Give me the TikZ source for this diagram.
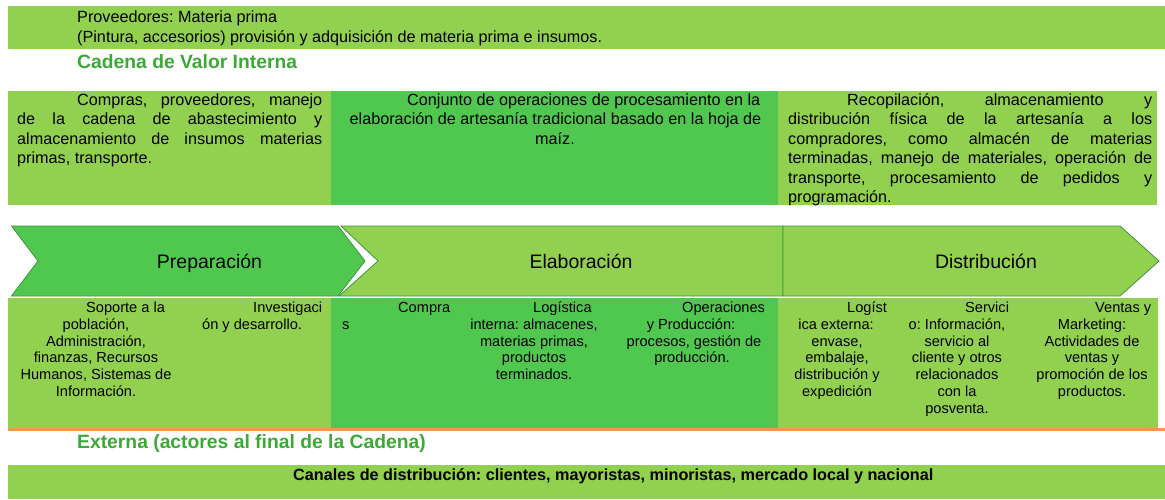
\documentclass[tikz,border=0pt]{standalone}
\usepackage{fontspec}
\setmainfont{Liberation Sans}
\frenchspacing
\definecolor{lg}{HTML}{92D050}
\definecolor{mg}{HTML}{50C850}
\definecolor{tg}{HTML}{3AAA35}
\definecolor{dg}{HTML}{3C963C}
\definecolor{og}{HTML}{F79646}
\tikzset{
  tA/.style={inner sep=0pt, anchor=base west, font=\fontsize{16.2}{19.5}\selectfont},
  tAc/.style={tA, anchor=base},
  tB/.style={inner sep=0pt, anchor=base west, font=\fontsize{14.6}{16.8}\selectfont},
  tBc/.style={tB, anchor=base},
  ttl/.style={inner sep=0pt, anchor=base west, text=tg, font=\fontsize{19.3}{22}\selectfont\bfseries},
  chv/.style={draw=dg, line width=0.8pt, line join=miter},
  chvtxt/.style={inner sep=0pt, anchor=base, font=\fontsize{19.5}{22}\selectfont},
}
\begin{document}
\begin{tikzpicture}[x=1pt,y=-1pt]
\useasboundingbox (0,0) rectangle (1165,499);
% top band
\fill[lg] (8,6) rectangle (1165,49);
\node[tA] (prov1) at (77,22) {Proveedores: Materia prima};
\node[tA] (prov2) at (77,42) {(Pintura, accesorios) provisión y adquisición de materia prima e insumos.};
\node[ttl] (cvi) at (77,68.5) {Cadena de Valor Interna};
% top boxes
\fill[lg] (8,91) rectangle (331,205);
\fill[mg] (331,91) rectangle (778,205);
\fill[lg] (778,91) rectangle (1157,205);
\node[tA] (c1) at (77,105) {\makebox[245pt][s]{Compras, proveedores, manejo}};
\node[tA] (c2) at (17,124.5) {\makebox[305pt][s]{de la cadena de abastecimiento y}};
\node[tA] (c3) at (17,144) {\makebox[305pt][s]{almacenamiento de insumos materias}};
\node[tA] (c4) at (17,163.5) {primas, transporte.};
\node[tA] (m1) at (407,105) {Conjunto de operaciones de procesamiento en la};
\node[tAc] (m2) at (555.5,124.5) {elaboración de artesanía tradicional basado en la hoja de};
\node[tAc] (m3) at (555,144) {maíz.};
\node[tA] (r1) at (847,105) {\makebox[305pt][s]{Recopilación, almacenamiento y}};
\node[tA] (r2) at (788,124.5) {\makebox[364pt][s]{distribución física de la artesanía a los}};
\node[tA] (r3) at (788,144) {\makebox[364pt][s]{compradores, como almacén de materias}};
\node[tA] (r4) at (788,163.5) {\makebox[364pt][s]{terminadas, manejo de materiales, operación de}};
\node[tA] (r5) at (788,183) {\makebox[364pt][s]{transporte, procesamiento de pedidos y}};
\node[tA] (r6) at (788,202.5) {programación.};
% chevrons
\filldraw[chv, fill=lg] (341,226) -- (783,226) -- (783,296) -- (339,296) -- (378,261) -- cycle;
\filldraw[chv, fill=lg] (783,226) -- (1120,226) -- (1159,261) -- (1120,296) -- (783,296) -- cycle;
\filldraw[chv, fill=mg] (11.5,226) -- (338,226) -- (365,261) -- (338,296) -- (11.5,296) -- (38,261) -- cycle;
\node[chvtxt] (prep) at (209.5,268) {Preparación};
\node[chvtxt] (elab) at (581,268) {Elaboración};
\node[chvtxt] (dist) at (986,268) {Distribución};
% bottom boxes
\fill[lg] (8,297.5) rectangle (331,428);
\fill[mg] (331,297.5) rectangle (778,428);
\fill[lg] (778,297.5) rectangle (1158,428);
\fill[og] (8,428) rectangle (1165,431);
% left bottom
\node[tB] (a1) at (86,312.5) {Soporte a la};
\node[tBc] (a2) at (96,329.3) {población,};
\node[tBc] (a3) at (96,346.1) {Administración,};
\node[tBc] (a4) at (96,362.9) {finanzas, Recursos};
\node[tBc] (a5) at (96,379.7) {Humanos, Sistemas de};
\node[tBc] (a6) at (96,396.5) {Información.};
\node[tB] (b1) at (253,312.5) {Investigaci};
\node[tB] (b2) at (202,329.3) {ón y desarrollo.};
% middle bottom
\node[tB] (d1) at (398,312.5) {Compra};
\node[tB] (d2) at (342,329.3) {s};
\node[tB] (e1) at (533,312.5) {Logística};
\node[tBc] (e2) at (534,329.3) {interna: almacenes,};
\node[tBc] (e3) at (534,346.1) {materias primas,};
\node[tBc] (e4) at (534,362.9) {productos};
\node[tBc] (e5) at (534,379.7) {terminados.};
\node[tB] (f1) at (682,312.5) {Operaciones};
\node[tBc] (f2) at (691,329.3) {y Producción:};
\node[tBc] (f3) at (694,346.1) {procesos, gestión de};
\node[tBc] (f4) at (692,362.9) {producción.};
% right bottom
\node[tB] (g1) at (847,312.5) {Logíst};
\node[tBc] (g2) at (836,329.3) {ica externa:};
\node[tBc] (g3) at (837,346.1) {envase,};
\node[tBc] (g4) at (837,362.9) {embalaje,};
\node[tBc] (g5) at (837,379.7) {distribución y};
\node[tBc] (g6) at (837,396.5) {expedición};
\node[tB] (h1) at (965,312.5) {Servici};
\node[tBc] (h2) at (957,329.3) {o: Información,};
\node[tBc] (h3) at (957,346.1) {servicio al};
\node[tBc] (h4) at (957,362.9) {cliente y otros};
\node[tBc] (h5) at (957,379.7) {relacionados};
\node[tBc] (h6) at (957,396.5) {con la};
\node[tBc] (h7) at (957,413.3) {posventa.};
\node[tB] (k1) at (1095,312.5) {Ventas y};
\node[tBc] (k2) at (1092,329.3) {Marketing:};
\node[tBc] (k3) at (1092,346.1) {Actividades de};
\node[tBc] (k4) at (1092,362.9) {ventas y};
\node[tBc] (k5) at (1092,379.7) {promoción de los};
\node[tBc] (k6) at (1092,396.5) {productos.};
% external
\node[ttl] (ext) at (77,448) {Externa (actores al final de la Cadena)};
\fill[lg] (8,465) rectangle (1165,499);
\node[inner sep=0pt, anchor=base west, font=\fontsize{16.2}{19}\selectfont\bfseries] (can) at (293,480) {Canales de distribución: clientes, mayoristas, minoristas, mercado local y nacional};
\end{tikzpicture}
\end{document}
